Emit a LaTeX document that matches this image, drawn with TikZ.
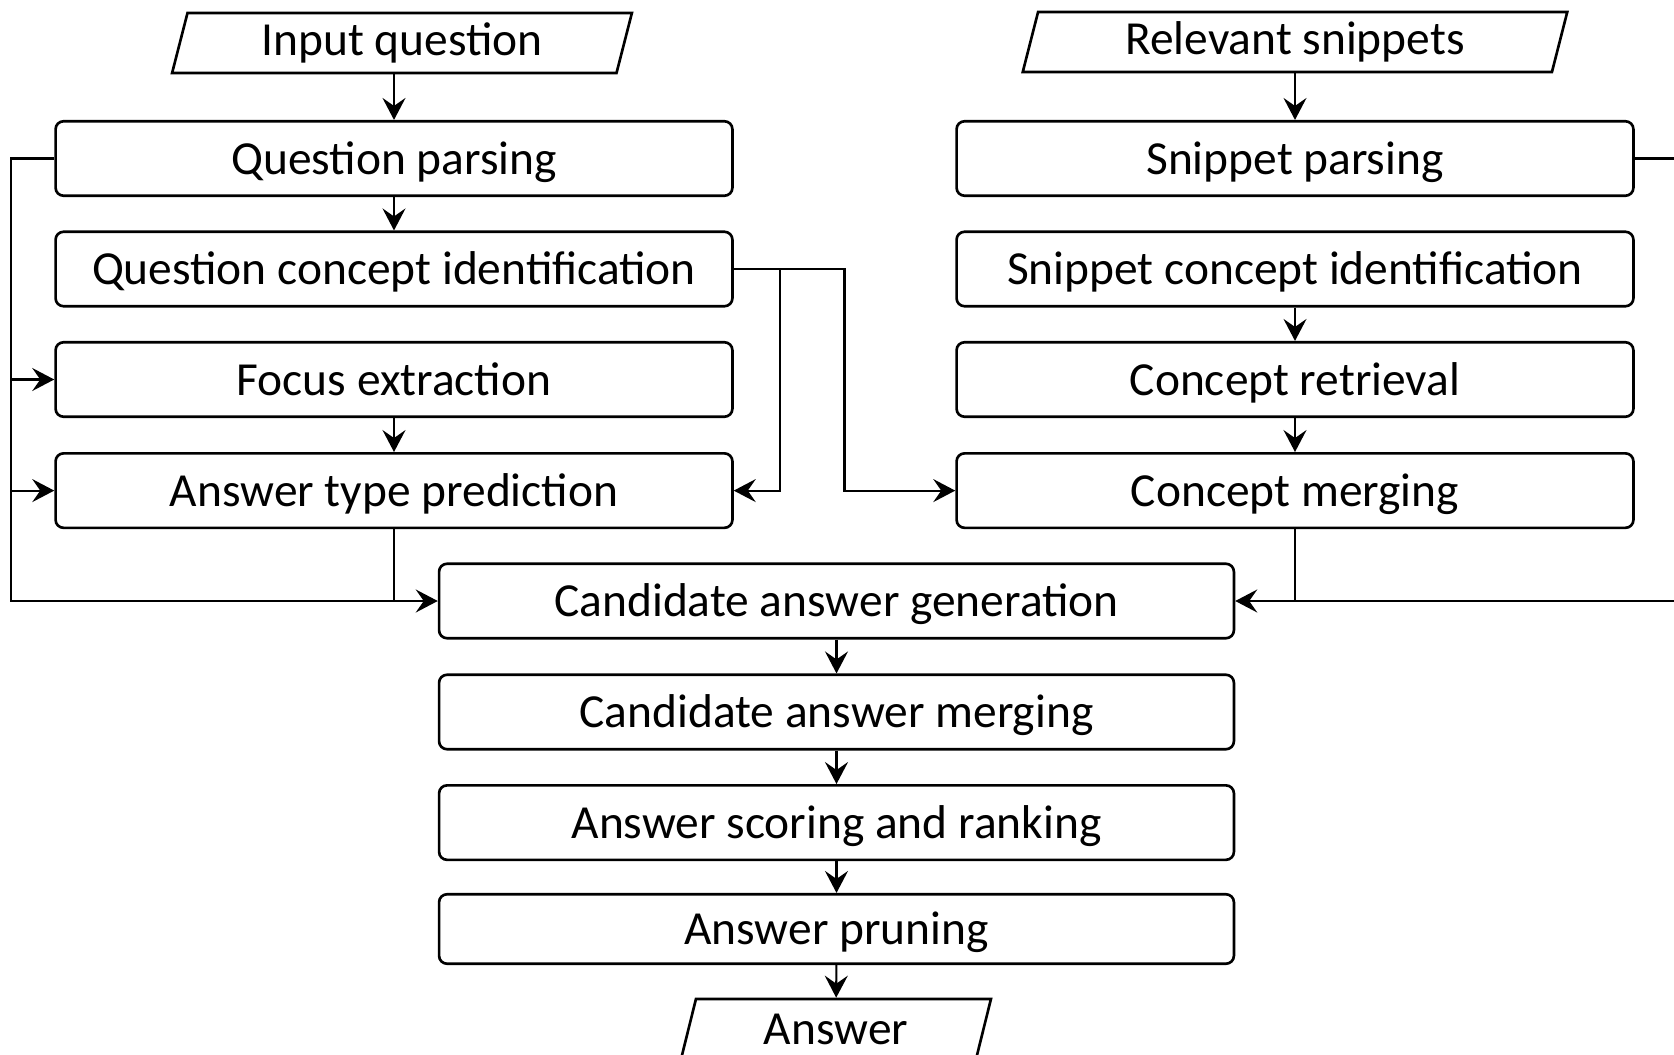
\documentclass[tikz,border=0pt]{standalone}
\usepackage{fontspec}
\setmainfont{Carlito}
\usetikzlibrary{arrows.meta,shapes.geometric}

\begin{document}
\begin{tikzpicture}[x=0.02cm,y=-0.02cm,
    font=\fontsize{27}{32}\selectfont,
    stage/.style={draw,line width=1.5pt,rounded corners=0.16cm,minimum height=1.49cm,minimum width=#1,
        inner sep=0pt,text height=17.8pt,text depth=0pt},
    stage/.default=13.54cm,
    io/.style={draw,line width=1.5pt,trapezium,trapezium left angle=76,trapezium right angle=104,
        trapezium stretches=true,minimum height=1.2cm,minimum width=#1,inner sep=0pt},
    conn/.style={line width=1.15pt,-{Stealth[length=0.44cm,width=0.46cm,inset=0.16cm]}},
    link/.style={line width=1.15pt}]
    \useasboundingbox (0,0) rectangle (1674,1055);

    % inputs
    \node[io=9.2cm] (input) at (402,43) {Input question};
    \node[io=10.9cm] (snippets) at (1295,42) {Relevant snippets};

    % question side
    \node[stage] (qparse) at (394,158.5) {Question parsing};
    \node[stage] (qconc) at (394,269) {Question concept identification};
    \node[stage] (focus) at (394,379.5) {Focus extraction};
    \node[stage] (atype) at (394,490.6) {Answer type prediction};

    % snippet side
    \node[stage] (sparse) at (1295,158.5) {Snippet parsing};
    \node[stage] (sconc) at (1295,269) {Snippet concept identification};
    \node[stage] (cretr) at (1295,379.5) {Concept retrieval};
    \node[stage] (cmerge) at (1295,490.6) {Concept merging};

    % answer pipeline
    \node[stage=15.9cm] (cgen) at (836.5,601) {Candidate answer generation};
    \node[stage=15.9cm] (amerge) at (836.5,712) {Candidate answer merging};
    \node[stage=15.9cm] (score) at (836.5,822.6) {Answer scoring and ranking};
    \node[stage=15.9cm,minimum height=1.39cm] (prune) at (836.5,929) {Answer pruning};
    \node[io=6.2cm] (answer) at (836,1029) {Answer};

    % bus lines
    \coordinate (lbus) at (10.7,0);
    \coordinate (abr) at (780.4,0);
    \coordinate (qbr) at (844.5,0);
    \coordinate (rbus) at (1700,0);

    \draw[conn] (input.south -| qparse) -- (qparse);
    \draw[conn] (qparse) -- (qconc);
    \draw[conn] (focus) -- (atype);
    \draw[conn] (snippets.south -| sparse) -- (sparse);
    \draw[conn] (sconc) -- (cretr);
    \draw[conn] (cretr) -- (cmerge);

    \draw[conn] (qparse.west) -- (qparse.west -| lbus) |- (cgen.west);
    \draw[conn] (focus.west -| lbus) -- (focus.west);
    \draw[conn] (atype.west -| lbus) -- (atype.west);
    \draw[link] (atype.south) -- (atype.south |- cgen.west);

    \draw[conn] (qconc.east) -- (qconc.east -| qbr) |- (cmerge.west);
    \draw[conn] (qconc.east -| abr) |- (atype.east);

    \draw[conn] (sparse.east) -- (sparse.east -| rbus) |- (cgen.east);
    \draw[link] (cmerge.south) -- (cmerge.south |- cgen.east);

    \draw[conn] (cgen) -- (amerge);
    \draw[conn] (amerge) -- (score);
    \draw[conn] (score) -- (prune);
    \draw[conn] (prune) -- (answer);
\end{tikzpicture}
\end{document}
